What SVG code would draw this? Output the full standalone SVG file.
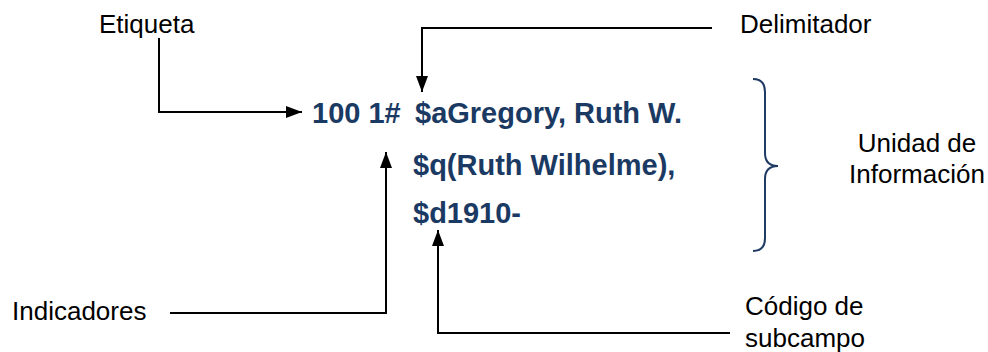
<svg xmlns="http://www.w3.org/2000/svg" width="988" height="352" viewBox="0 0 988 352">
<style>
.lbl{font-family:"Liberation Sans",Arial,sans-serif;font-size:26px;fill:#000}
.rec{font-family:"Liberation Sans",Arial,sans-serif;font-size:29px;font-weight:bold;fill:#1B3A63}
.ln{fill:none;stroke:#000;stroke-width:2}
</style>
<defs>
<marker id="ah" viewBox="0 0 16 12" refX="16" refY="6" markerWidth="16" markerHeight="12" markerUnits="userSpaceOnUse" orient="auto">
<path d="M0,0 L16,6 L0,12 Z" fill="#000"/>
</marker>
</defs>
<rect width="988" height="352" fill="#fff"/>
<g id="record">
<text class="rec" x="312" y="123">100 1#<tspan x="415">$aGregory, Ruth W.</tspan></text>
<text class="rec" x="413" y="175">$q(Ruth Wilhelme),</text>
<text class="rec" x="413" y="223">$d1910-</text>
</g>
<g id="etiqueta"><text class="lbl" x="99" y="33">Etiqueta</text></g>
<g id="delimitador"><text class="lbl" x="740" y="33">Delimitador</text></g>
<g id="indicadores"><text class="lbl" x="12" y="320">Indicadores</text></g>
<g id="codigo"><text class="lbl" x="745" y="315">Código de</text><text class="lbl" x="745" y="347">subcampo</text></g>
<g id="unidad">
<path d="M753,79 C762,79 765,84 765,92 L765,153 C765,161 769,166 778,166 C769,166 765,171 765,179 L765,238 C765,246 762,251 753,251" fill="none" stroke="#1F3A63" stroke-width="2"/>
<text class="lbl" x="917" y="152" text-anchor="middle">Unidad de</text>
<text class="lbl" x="917" y="183" text-anchor="middle">Información</text>
</g>
<g id="connectors">
<polyline class="ln" points="159,38 159,112 302,112" marker-end="url(#ah)"/>
<polyline class="ln" points="712,28 422,28 422,92" marker-end="url(#ah)"/>
<polyline class="ln" points="170,313 386,313 386,152" marker-end="url(#ah)"/>
<polyline class="ln" points="730,333 438,333 438,230" marker-end="url(#ah)"/>
</g>
</svg>
